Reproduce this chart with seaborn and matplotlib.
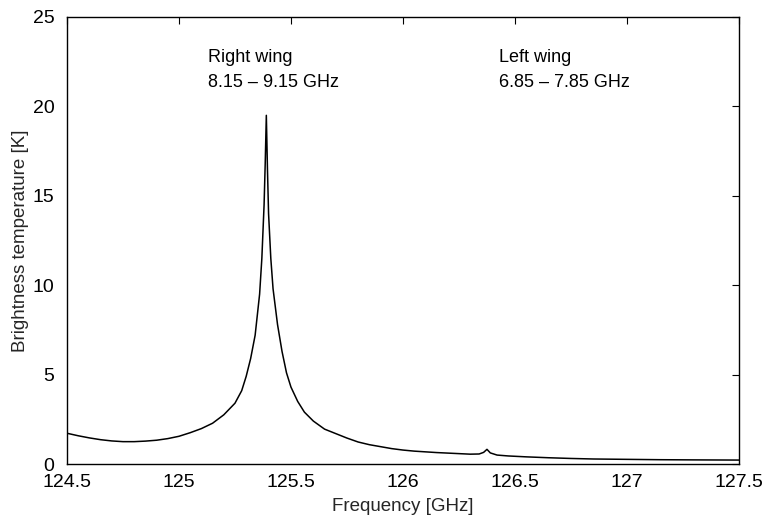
import matplotlib
matplotlib.use("Agg")
import matplotlib.pyplot as plt
import seaborn as sns
import pandas as pd

frequency_ghz = [
    124.50, 124.55, 124.60, 124.65, 124.70, 124.75, 124.80, 124.85, 124.90, 124.95,
    125.00, 125.05, 125.10, 125.15, 125.20, 125.25, 125.28, 125.30, 125.32, 125.34,
    125.36, 125.37, 125.38, 125.385, 125.39, 125.395, 125.40, 125.41, 125.42, 125.44,
    125.46, 125.48, 125.50, 125.53, 125.56, 125.60, 125.65, 125.70, 125.75, 125.80,
    125.85, 125.90, 125.95, 126.00, 126.05, 126.10, 126.15, 126.20, 126.25, 126.30,
    126.34, 126.36, 126.375, 126.39, 126.42, 126.47, 126.55, 126.65, 126.75, 126.85,
    127.00, 127.15, 127.30, 127.50,
]
brightness_k = [
    1.72, 1.58, 1.46, 1.36, 1.29, 1.25, 1.25, 1.28, 1.33, 1.42,
    1.55, 1.75, 1.98, 2.28, 2.75, 3.40, 4.10, 4.90, 5.90, 7.20,
    9.50, 11.5, 14.5, 16.8, 19.5, 16.5, 14.0, 11.5, 9.8, 7.8,
    6.3, 5.1, 4.3, 3.5, 2.9, 2.4, 1.95, 1.70, 1.45, 1.23,
    1.08, 0.97, 0.86, 0.78, 0.72, 0.68, 0.64, 0.61, 0.58, 0.55,
    0.56, 0.65, 0.82, 0.62, 0.50, 0.45, 0.40, 0.35, 0.31, 0.28,
    0.26, 0.24, 0.23, 0.22,
]
x_ticks = [124.5, 125, 125.5, 126, 126.5, 127, 127.5]
x_tick_labels = ["124.5", "125", "125.5", "126", "126.5", "127", "127.5"]
y_ticks = [0, 5, 10, 15, 20, 25]
annotations = [
    ("Right wing", "8.15 \u2013 9.15 GHz", 125.13),
    ("Left wing", "6.85 \u2013 7.85 GHz", 126.43),
]

df = pd.DataFrame({"Frequency": frequency_ghz, "Tb": brightness_k})

sns.set_theme(style="white")
plt.rcParams["font.family"] = ["Liberation Sans", "DejaVu Sans"]

fig = plt.figure(figsize=(7.68, 5.24), dpi=100)
ax = fig.add_axes([0.0872, 0.1145, 0.8750, 0.8531])

sns.lineplot(data=df, x="Frequency", y="Tb", color="black", linewidth=1.1,
             sort=False, ax=ax)

ax.set_xlim(124.5, 127.5)
ax.set_ylim(0, 25)
ax.set_xticks(x_ticks)
ax.set_xticklabels(x_tick_labels)
ax.set_yticks(y_ticks)
ax.set_xlabel("Frequency [GHz]", fontsize=13.5, labelpad=5)
ax.set_ylabel("Brightness temperature [K]", fontsize=13.5, labelpad=3)
ax.tick_params(axis="both", which="major", direction="in", length=5, width=0.8,
               labelsize=14, colors="black", top=True, right=True)
ax.tick_params(axis="x", pad=7)
ax.tick_params(axis="y", pad=9)
for sp in ax.spines.values():
    sp.set_visible(True)
    sp.set_color("black")
    sp.set_linewidth(1.0)

for line1, line2, xpos in annotations:
    ax.text(xpos, 22.48, line1, fontsize=13, ha="left", va="baseline", color="black")
    ax.text(xpos, 21.08, line2, fontsize=13, ha="left", va="baseline", color="black")

fig.savefig("out.png", dpi=100)
